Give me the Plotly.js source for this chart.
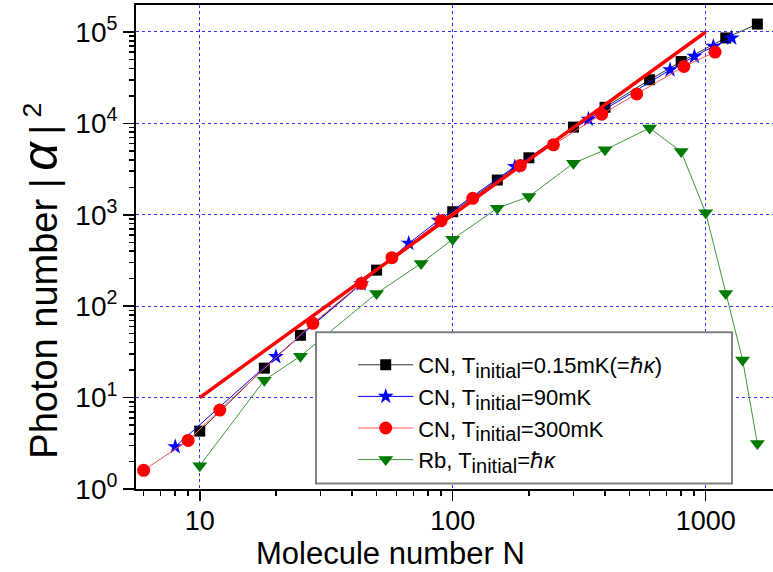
<!DOCTYPE html>
<html>
<head>
<meta charset="utf-8">
<script src="https://cdn.plot.ly/plotly-3.0.1.min.js"></script>
<style>html,body{margin:0;padding:0;background:#fff;overflow:hidden}#chart{width:773px;height:572px}</style>
</head>
<body>
<div id="chart"></div>
<script>
// CN, T_initial = 0.15 mK (black squares)
const cn015N = [10, 18, 25, 50, 100, 150, 200, 300, 400, 600, 800, 1200, 1600];
const cn015Y = [4.3, 21, 48, 248, 1080, 2400, 4200, 9100, 15000, 30000, 47500, 86000, 122000];
// CN, T_initial = 90 mK (blue stars)
const cn90N = [8, 20, 43.5, 67, 88, 176, 344, 723, 902, 1072, 1267];
const cn90Y = [2.9, 28, 175, 487, 870, 3370, 11100, 38500, 54000, 69400, 85700];
// CN, T_initial = 300 mK (red circles)
const cn300N = [6, 9, 12, 28, 43.5, 57.5, 90, 120, 185, 250, 388, 534, 820, 1089];
const cn300Y = [1.6, 3.4, 7.3, 65, 177, 339, 860, 1515, 3450, 5820, 12600, 21000, 41900, 60300];
// Rb, T_initial = hbar kappa (green triangles)
const rbN = [10, 18, 25, 50, 75, 100, 150, 200, 300, 400, 600, 800, 1000, 1200, 1400, 1600];
const rbY = [1.8, 15.5, 28.4, 138, 294, 540, 1180, 1580, 3660, 5130, 8900, 4910, 1050, 138, 25.7, 3.14];
// Reference N^2 line
const fitN = [10, 1000];
const fitY = [10, 100000];

const SUB = '<sub><span style="font-size:20px">initial</span></sub>';
const legendNames = [
  'CN, T' + SUB + '=0.15mK(=ℏ<i>κ</i>)',
  'CN, T' + SUB + '=90mK',
  'CN, T' + SUB + '=300mK',
  'Rb, T' + SUB + '=ℏ<i>κ</i>'
];
const xTickVals = [10, 100, 1000];
const xTickText = ['10', '100', '1000'];
const yTickVals = [1, 10, 100, 1000, 10000, 100000];
const yTickText = ['10<sup>0</sup>', '10<sup>1</sup>', '10<sup>2</sup>', '10<sup>3</sup>', '10<sup>4</sup>', '10<sup>5</sup>'];
const xMinor = [6, 7, 8, 9, 20, 30, 40, 50, 60, 70, 80, 90, 200, 300, 400, 500, 600, 700, 800, 900];
const yMinor = [];
[1, 10, 100, 1000, 10000, 100000].forEach(d => { for (let k = 2; k <= 9; k++) yMinor.push(d * k); });

const FONT = 'Arial, "Liberation Sans", sans-serif';

const traces = [
  {x: cn015N, y: cn015Y, name: legendNames[0], mode: 'lines+markers',
   line: {color: '#333333', width: 1}, marker: {symbol: 'square', size: 11, color: '#000000'}},
  {x: cn90N, y: cn90Y, name: legendNames[1], mode: 'lines+markers',
   line: {color: '#0000ff', width: 1}, marker: {symbol: 'star', size: 12, color: '#0000ff'}},
  {x: cn300N, y: cn300Y, name: legendNames[2], mode: 'lines+markers',
   line: {color: '#ff5050', width: 1}, marker: {symbol: 'circle', size: 13, color: '#ff0000'}},
  {x: rbN, y: rbY, name: legendNames[3], mode: 'lines+markers',
   line: {color: '#3a9a3a', width: 1}, marker: {symbol: 'triangle-down', size: 13, color: '#007a00'}},
  {x: fitN, y: fitY, mode: 'lines', showlegend: false, hoverinfo: 'skip',
   line: {color: '#ff0000', width: 3.5}}
];

const layout = {
  width: 773, height: 572,
  margin: {l: 136, r: 0, t: 5, b: 83},
  paper_bgcolor: '#ffffff', plot_bgcolor: '#ffffff',
  font: {family: FONT, color: '#000'},
  showlegend: true,
  xaxis: {
    type: 'log', range: [0.748, 3.266], autorange: false,
    tickmode: 'array', tickvals: xTickVals, ticktext: xTickText,
    ticks: 'outside', ticklen: 10, tickwidth: 1.5, tickcolor: '#000',
    ticklabelstandoff: -3,
    tickfont: {family: FONT, size: 27, color: '#000'},
    showline: true, linecolor: '#000', linewidth: 2, mirror: true,
    showgrid: true, gridcolor: '#3333ff', griddash: 'dot', gridwidth: 1,
    zeroline: false,
    minor: {tickmode: 'array', tickvals: xMinor, ticks: 'outside', ticklen: 5, tickwidth: 1.5, tickcolor: '#000', showgrid: false}
  },
  yaxis: {
    type: 'log', range: [0, 5.295], autorange: false,
    tickmode: 'array', tickvals: yTickVals, ticktext: yTickText,
    ticks: 'outside', ticklen: 11, tickwidth: 1.5, tickcolor: '#000',
    tickfont: {family: FONT, size: 28, color: '#000'},
    showline: true, linecolor: '#000', linewidth: 2,
    showgrid: true, gridcolor: '#3333ff', griddash: 'dot', gridwidth: 1,
    zeroline: false,
    minor: {tickmode: 'array', tickvals: yMinor, ticks: 'outside', ticklen: 5, tickwidth: 1.5, tickcolor: '#000', showgrid: false}
  },
  legend: {
    x: 0.341, y: 0.2996, xanchor: 'left', yanchor: 'top',
    bgcolor: 'rgba(0,0,0,0)', borderwidth: 0,
    font: {family: FONT, size: 22, color: '#000'},
    itemwidth: 55, tracegroupgap: 0
  },
  shapes: [
    {type: 'rect', xref: 'paper', yref: 'paper', x0: 0.2826, x1: 0.9356, y0: 0.0114, y1: 0.3238,
     layer: 'above', fillcolor: '#ffffff', line: {color: '#808080', width: 2}}
  ],
  annotations: [
    {text: 'Molecule number N', xref: 'paper', yref: 'paper', x: 0.4003, y: -0.1333,
     xanchor: 'center', yanchor: 'middle', showarrow: false,
     font: {family: FONT, size: 31, color: '#000'}},
    {text: 'Photon number |\u2009<span style="font-size:50px"><i>α</i></span>\u2009|<sup>\u00a02</sup>',
     xref: 'paper', yref: 'paper', x: -0.151, y: 0.43,
     xanchor: 'center', yanchor: 'middle', textangle: -90, showarrow: false,
     font: {family: FONT, size: 38, color: '#000'}}
  ]
};

Plotly.newPlot('chart', traces, layout, {staticPlot: true, displayModeBar: false});
</script>
</body>
</html>
